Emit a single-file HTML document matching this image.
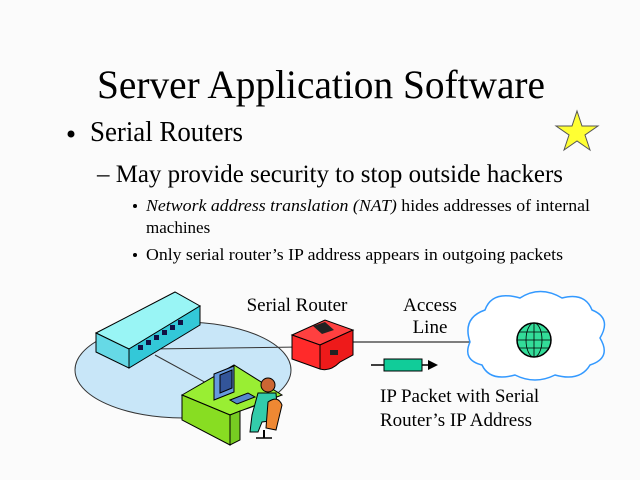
<!DOCTYPE html>
<html><head><meta charset="utf-8"><style>
html,body{margin:0;padding:0;background:#fbfbfb;}
svg{display:block;font-family:"Liberation Serif",serif;}
</style></head><body>
<svg width="640" height="480" viewBox="0 0 640 480" xmlns="http://www.w3.org/2000/svg">
<rect width="640" height="480" fill="#fbfbfb"/>
<text x="97" y="98" font-size="40" textLength="448" lengthAdjust="spacingAndGlyphs" fill="#000">Server Application Software</text>
<circle cx="71" cy="134" r="3.5" fill="#000"/>
<text x="90" y="141" font-size="28" textLength="153" lengthAdjust="spacingAndGlyphs">Serial Routers</text>
<text x="97" y="182" font-size="25" textLength="466" lengthAdjust="spacingAndGlyphs">– May provide security to stop outside hackers</text>
<circle cx="135" cy="206" r="2" fill="#000"/>
<text x="146" y="211" font-size="17" textLength="444" lengthAdjust="spacingAndGlyphs"><tspan font-style="italic">Network address translation (NAT)</tspan> hides addresses of internal</text>
<text x="146" y="233" font-size="17">machines</text>
<circle cx="135" cy="255" r="2" fill="#000"/>
<text x="146" y="260" font-size="17" textLength="417" lengthAdjust="spacingAndGlyphs">Only serial router’s IP address appears in outgoing packets</text>
<polygon points="577,111 582,126 598,126 585,135 590,150 577,141 564,150 569,135 556,126 572,126" fill="#ffff33" stroke="#555" stroke-width="1"/>
<ellipse cx="183" cy="370" rx="108" ry="48" fill="#c8e6f8" stroke="#333" stroke-width="1"/>
<line x1="150" y1="349" x2="300" y2="347" stroke="#333"/>
<line x1="155" y1="355" x2="210" y2="385" stroke="#333"/>
<polygon points="96,333 175,292 200,306 129,349" fill="#99f5f5" stroke="#000"/>
<polygon points="96,333 129,349 129,368 96,352" fill="#66d9e6" stroke="#000"/>
<polygon points="129,349 200,306 200,325 129,368" fill="#33c8d8" stroke="#000"/>
<g fill="#114"><rect x="138" y="345" width="5" height="5"/><rect x="146" y="340" width="5" height="5"/><rect x="154" y="335" width="5" height="5"/><rect x="162" y="330" width="5" height="5"/><rect x="170" y="325" width="5" height="5"/><rect x="178" y="320" width="5" height="5"/></g>
<!-- router -->
<polygon points="292,335 325,320 353,330 320,345" fill="#ff4040" stroke="#000"/>
<polygon points="292,335 320,345 320,369 292,359" fill="#ff2a2a" stroke="#000"/>
<path d="M320,345 L353,330 L353,355 L340,362 Q330,372 320,369 Z" fill="#ee1a1a" stroke="#000"/>
<polygon points="313,326 325,322 334,330 322,334" fill="#222"/>
<rect x="330" y="350" width="8" height="5" fill="#222"/>
<line x1="353" y1="342" x2="470" y2="342" stroke="#000"/>
<polygon points="182,395 234,365 282,395 230,415" fill="#99ee33" stroke="#000"/>
<polygon points="182,395 230,415 230,445 182,420" fill="#88dd22" stroke="#000"/>
<polygon points="230,415 240,411 240,440 230,445" fill="#77cc22" stroke="#000"/>
<polygon points="214,374 234,366 234,392 214,400" fill="#6699dd" stroke="#000"/>
<polygon points="220,375 232,370 232,388 220,393" fill="#335599" stroke="#000"/>
<polygon points="230,400 248,393 255,397 237,404" fill="#5588cc" stroke="#000"/>
<circle cx="268" cy="385" r="7" fill="#cc6633" stroke="#000"/>
<path d="M258,393 L276,393 L278,420 L262,422 L258,432 L250,432 L252,415 Z" fill="#33ccaa" stroke="#000"/>
<path d="M268,402 Q278,395 282,405 L276,430 L266,428 Z" fill="#ee8833" stroke="#000"/>
<line x1="264" y1="430" x2="264" y2="438" stroke="#000" stroke-width="2"/>
<line x1="256" y1="438" x2="272" y2="438" stroke="#000" stroke-width="1.5"/>
<path d="M470,342 Q462,318 485,310 Q492,290 520,298 Q540,285 562,298 Q585,292 592,310 Q612,318 600,338 Q612,358 590,365 Q580,382 555,375 Q535,385 515,375 Q490,382 482,365 Q462,360 470,342 Z" fill="#fff" stroke="#3399ff" stroke-width="1.5"/>
<circle cx="534" cy="340" r="17" fill="#33dd99" stroke="#000" stroke-width="1.5"/>
<g stroke="#000" stroke-width="0.8" fill="none">
<ellipse cx="534" cy="340" rx="8" ry="17"/><line x1="534" y1="323" x2="534" y2="357"/>
<line x1="517" y1="340" x2="551" y2="340"/><line x1="519" y1="332" x2="549" y2="332"/><line x1="519" y1="348" x2="549" y2="348"/>
</g>
<line x1="371" y1="365" x2="430" y2="365" stroke="#000" stroke-width="1.5"/>
<rect x="384" y="359" width="38" height="12" fill="#11cc99" stroke="#000"/>
<polygon points="428,360 438,365 428,370" fill="#000"/>
<text x="297" y="311" font-size="19" text-anchor="middle">Serial Router</text>
<text x="430" y="311" font-size="19" text-anchor="middle">Access</text>
<text x="430" y="333" font-size="19" text-anchor="middle">Line</text>
<text x="380" y="402" font-size="19">IP Packet with Serial</text>
<text x="380" y="426" font-size="19">Router’s IP Address</text>
</svg>
</body></html>
